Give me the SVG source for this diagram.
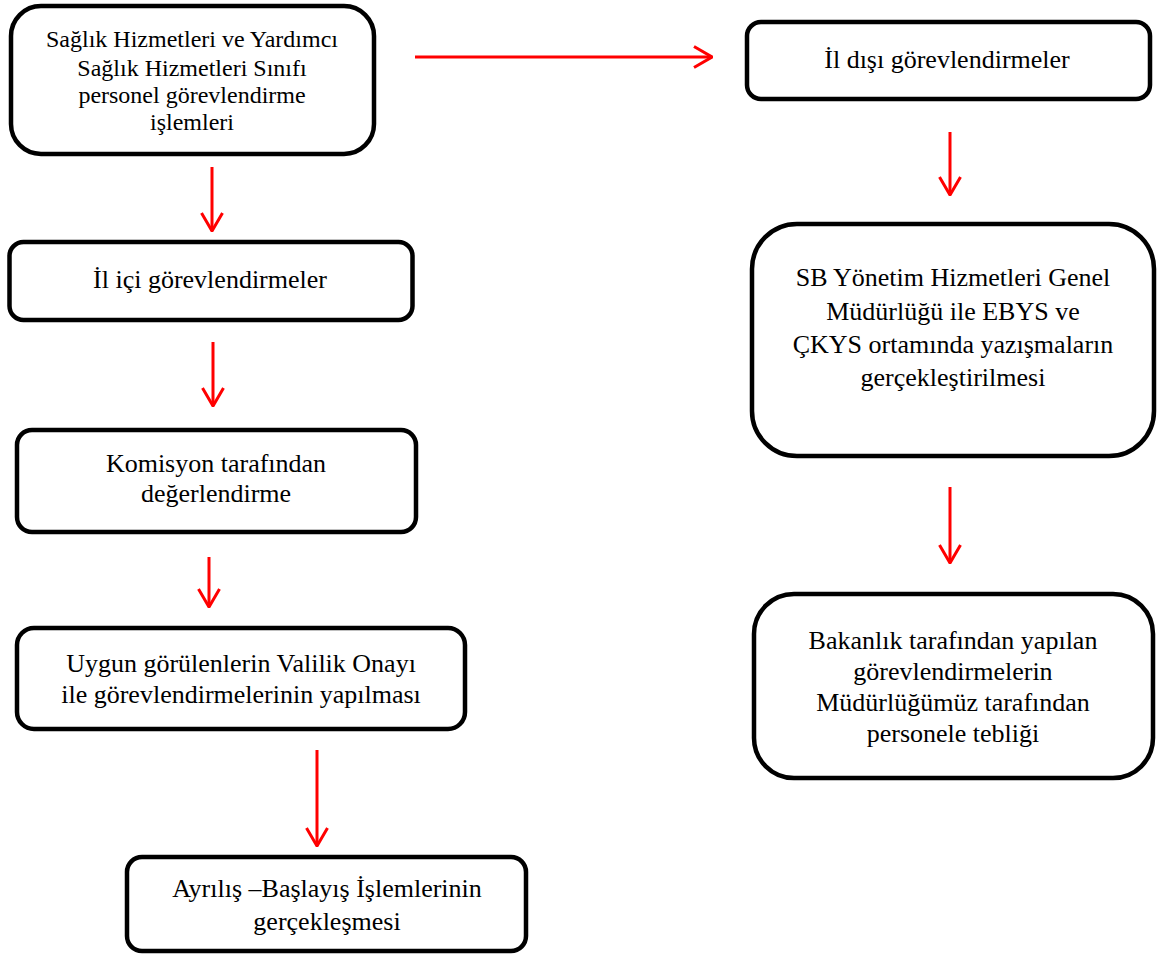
<svg xmlns="http://www.w3.org/2000/svg" width="1159" height="956" viewBox="0 0 1159 956">
  <style>
    .box { fill: #ffffff; stroke: #000000; stroke-width: 4.5; }
    .lbl { font-family: "Liberation Serif", "Times New Roman", serif; font-size: 26px; fill: #000000; text-anchor: middle; }
    .sm { font-size: 24px; }
    .edge { fill: none; stroke: #ff0000; stroke-width: 3; }
  </style>
  <defs>
    <marker id="vhead" viewBox="0 0 20 24" refX="19" refY="12" markerWidth="20" markerHeight="24" markerUnits="userSpaceOnUse" orient="auto">
      <path d="M1,1.5 L19,12 L1,22.5" fill="none" stroke="#ff0000" stroke-width="3"/>
    </marker>
  </defs>
  <rect width="1159" height="956" fill="#ffffff"/>

  <g id="connectors">
    <line class="edge" x1="415" y1="57" x2="712" y2="57" marker-end="url(#vhead)"/>
    <line class="edge" x1="212" y1="167" x2="212" y2="231" marker-end="url(#vhead)"/>
    <line class="edge" x1="213" y1="342" x2="213" y2="406" marker-end="url(#vhead)"/>
    <line class="edge" x1="209" y1="557" x2="209" y2="607" marker-end="url(#vhead)"/>
    <line class="edge" x1="317" y1="750" x2="317" y2="846" marker-end="url(#vhead)"/>
    <line class="edge" x1="950" y1="132" x2="950" y2="195" marker-end="url(#vhead)"/>
    <line class="edge" x1="950" y1="487" x2="950" y2="563" marker-end="url(#vhead)"/>
  </g>

  <g id="node-start">
    <rect class="box" x="11" y="6" width="363" height="148" rx="30"/>
    <text class="lbl sm" x="192" y="47">Sağlık Hizmetleri ve Yardımcı</text>
    <text class="lbl sm" x="192" y="76">Sağlık Hizmetleri Sınıfı</text>
    <text class="lbl sm" x="192" y="103">personel görevlendirme</text>
    <text class="lbl sm" x="192" y="130">işlemleri</text>
  </g>

  <g id="node-il-ici">
    <rect class="box" x="9.5" y="242" width="403" height="78" rx="14"/>
    <text class="lbl" x="210" y="288">İl içi görevlendirmeler</text>
  </g>

  <g id="node-komisyon">
    <rect class="box" x="17" y="430" width="399" height="102" rx="15"/>
    <text class="lbl" x="216" y="472">Komisyon tarafından</text>
    <text class="lbl" x="216" y="502">değerlendirme</text>
  </g>

  <g id="node-valilik">
    <rect class="box" x="17" y="628" width="448" height="101" rx="17"/>
    <text class="lbl" x="241" y="672">Uygun görülenlerin Valilik Onayı</text>
    <text class="lbl" x="241" y="703">ile görevlendirmelerinin yapılması</text>
  </g>

  <g id="node-ayrilis">
    <rect class="box" x="127" y="857" width="399" height="94" rx="15"/>
    <text class="lbl" x="327" y="897">Ayrılış –Başlayış İşlemlerinin</text>
    <text class="lbl" x="327" y="930">gerçekleşmesi</text>
  </g>

  <g id="node-il-disi">
    <rect class="box" x="747" y="22" width="403" height="77" rx="14"/>
    <text class="lbl" x="947" y="68">İl dışı görevlendirmeler</text>
  </g>

  <g id="node-ebys">
    <rect class="box" x="752" y="224" width="402" height="232" rx="45"/>
    <text class="lbl" x="953" y="286">SB Yönetim Hizmetleri Genel</text>
    <text class="lbl" x="953" y="320">Müdürlüğü ile EBYS ve</text>
    <text class="lbl" x="953" y="353">ÇKYS ortamında yazışmaların</text>
    <text class="lbl" x="953" y="386">gerçekleştirilmesi</text>
  </g>

  <g id="node-teblig">
    <rect class="box" x="754" y="594" width="399" height="184" rx="40"/>
    <text class="lbl" x="953" y="649">Bakanlık tarafından yapılan</text>
    <text class="lbl" x="953" y="680">görevlendirmelerin</text>
    <text class="lbl" x="953" y="711">Müdürlüğümüz tarafından</text>
    <text class="lbl" x="953" y="742">personele tebliği</text>
  </g>
</svg>
